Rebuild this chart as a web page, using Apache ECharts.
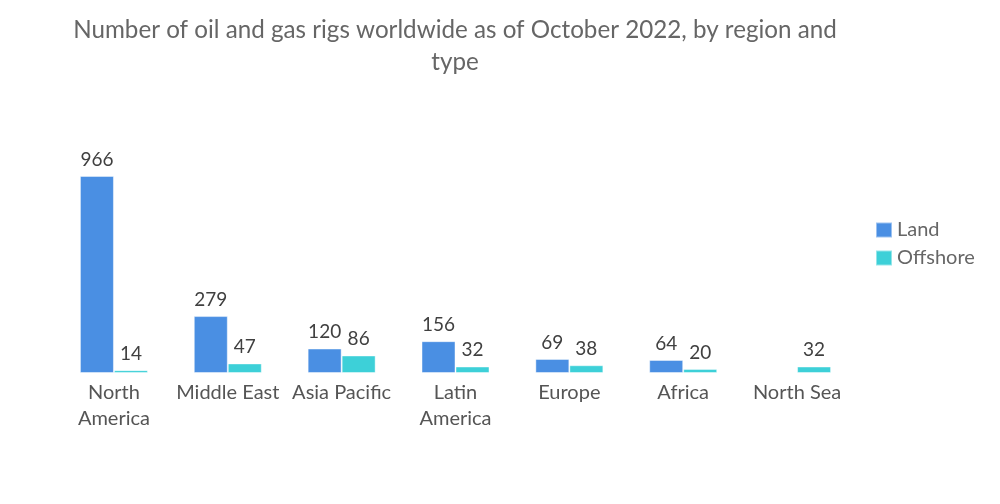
<!DOCTYPE html>
<html><head><meta charset="utf-8">
<script src="https://cdn.jsdelivr.net/npm/echarts@6/dist/echarts.min.js"></script>
<style>html,body{margin:0;padding:0;background:#fff}#c{width:1000px;height:504px}</style>
</head><body><div id="c"></div>
<script>
var categories = ['North America','Middle East','Asia Pacific','Latin America','Europe','Africa','North Sea'];
var landValues = [966, 279, 120, 156, 69, 64, null];
var offshoreValues = [14, 47, 86, 32, 38, 20, 32];
var seriesNames = ['Land','Offshore'];
var titleText = 'Number of oil and gas rigs worldwide as of October 2022, by region and\ntype';

var chart = echarts.init(document.getElementById('c'));
var valueLabel = {show:true, position:'top', distance:7, color:'#404040', fontSize:19, fontFamily:'Lato'};
chart.setOption({
  animation:false,
  title:{text:titleText, left:450, top:9, textAlign:'center',
    textStyle:{fontFamily:'Lato', fontWeight:'normal', fontSize:24.2, color:'#666', lineHeight:32}},
  legend:{orient:'vertical', left:870, top:215, itemWidth:16, itemHeight:15, itemGap:8,
    icon:'rect', textStyle:{fontFamily:'Lato', fontSize:20, color:'#666', lineHeight:20}},
  grid:{left:57, right:146, top:169, bottom:131},
  xAxis:{type:'category', data:categories,
    axisLine:{show:false}, axisTick:{show:false},
    axisLabel:{interval:0, margin:7, fontFamily:'Lato', fontSize:20, color:'#555', lineHeight:26,
      formatter:function(v){return v.replace(' America','\nAmerica');}}},
  yAxis:{type:'value', min:0, max:1000, show:false, splitLine:{show:false}},
  series:[
    {name:seriesNames[0], type:'bar', data:landValues, barWidth:34, barGap:'0%',
      itemStyle:{color:'#4a8fe3', borderColor:'rgba(255,255,255,0.45)', borderWidth:1}, label:valueLabel},
    {name:seriesNames[1], type:'bar', data:offshoreValues, barWidth:34, barGap:'0%',
      itemStyle:{color:'#3dd0d8', borderColor:'rgba(255,255,255,0.45)', borderWidth:1}, label:valueLabel}
  ]
});
</script></body></html>
